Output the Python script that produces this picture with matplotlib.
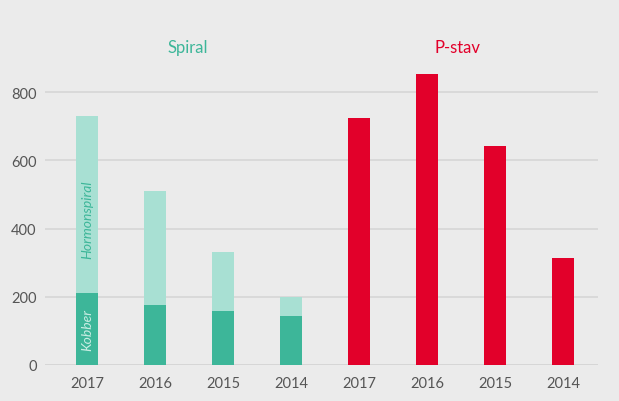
import numpy as np
import matplotlib.pyplot as plt

plt.rcParams['font.family'] = ['Lato', 'DejaVu Sans']

# Data
years = ["2017", "2016", "2015", "2014"]
kobber = [210, 175, 158, 145]
hormonspiral_total = [730, 510, 332, 200]
pstav = [725, 853, 643, 314]

BG = "#ebebeb"
TEAL_DARK = "#3db699"
TEAL_LIGHT = "#a8e0d3"
RED = "#e2002a"
GRID = "#d6d6d6"
TXT = "#555555"

fig = plt.figure(figsize=(6.19, 4.02), dpi=100, facecolor=BG)
ax = fig.add_axes([45 / 619, 36 / 402, 553 / 619, 307 / 402], facecolor=BG)

x_spiral = np.arange(4)
x_pstav = np.arange(4, 8)
hormon = [t - k for t, k in zip(hormonspiral_total, kobber)]
w = 0.32

ax.bar(x_spiral, kobber, width=w, color=TEAL_DARK, zorder=3)
ax.bar(x_spiral, hormon, bottom=kobber, width=w, color=TEAL_LIGHT, zorder=3)
ax.bar(x_pstav, pstav, width=w, color=RED, zorder=3)

ax.set_xlim(-0.62, 7.51)
ax.set_ylim(0, 900)
ax.set_yticks([0, 200, 400, 600, 800])
ax.yaxis.grid(True, color=GRID, linewidth=1.2, zorder=0)
ax.set_xticks(np.arange(8))
ax.set_xticklabels(years + years)
ax.tick_params(axis="both", length=0, labelsize=10.5, colors=TXT)
ax.tick_params(axis="x", pad=8)
ax.tick_params(axis="y", pad=6)
for s in ax.spines.values():
    s.set_visible(False)
ax.axhline(0, color=GRID, linewidth=1.2, zorder=2)

# Group titles
ax.text(1.48, 933, "Spiral", color=TEAL_DARK, fontsize=12, ha="center", va="center")
ax.text(5.45, 933, "P-stav", color=RED, fontsize=12, ha="center", va="center")

# In-bar labels
ax.text(0, kobber[0] / 2, "Kobber", rotation=90, style="italic", color="#c9ede3",
        fontsize=10, ha="center", va="center", zorder=4)
ax.text(0, kobber[0] + 218, "Hormonspiral", rotation=90, style="italic",
        color=TEAL_DARK, fontsize=10, ha="center", va="center", zorder=4)

fig.savefig("out.png", dpi=100, facecolor=BG)
